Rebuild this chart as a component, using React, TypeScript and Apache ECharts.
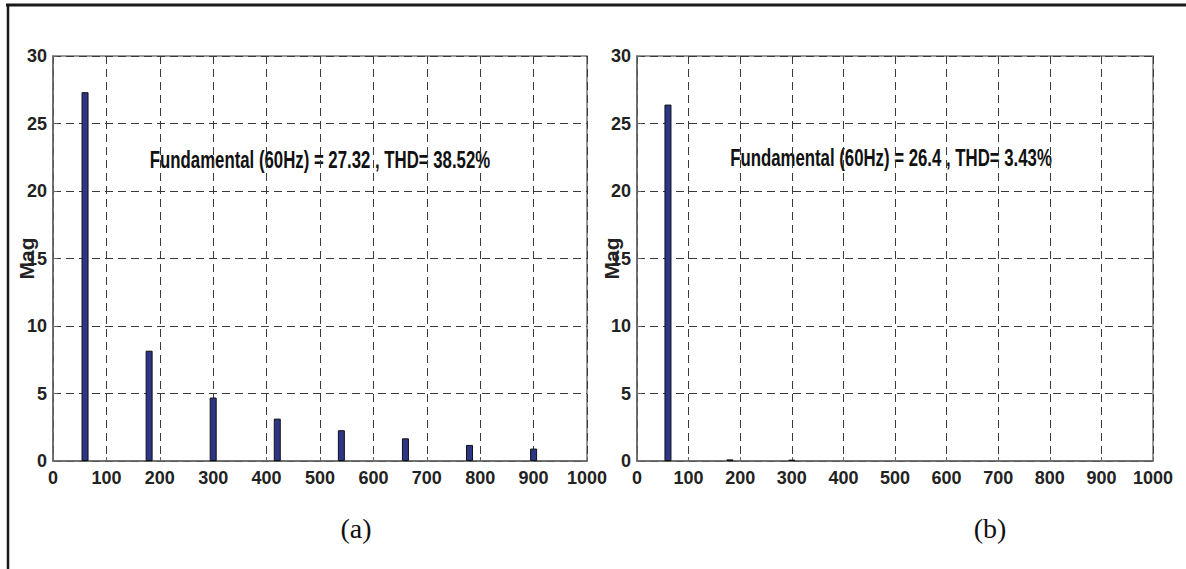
import React, { useEffect, useRef } from "react";
import * as echarts from "echarts";

const xTicks = [0, 100, 200, 300, 400, 500, 600, 700, 800, 900, 1000];
const harmonicFreqA = [60, 180, 300, 420, 540, 660, 780, 900];
const harmonicMagA = [27.32, 8.17, 4.7, 3.14, 2.28, 1.68, 1.19, 0.92];
const harmonicFreqB = [60, 180, 300];
const harmonicMagB = [26.4, 0.12, 0.1];
const annotationA = "Fundamental (60Hz) = 27.32 , THD= 38.52%";
const annotationB = "Fundamental (60Hz) = 26.4 , THD= 3.43%";
const panelLabels = ["(a)", "(b)"];
const yName = "Mag";

const FONT = "'Liberation Sans', Arial, sans-serif";

export default function App() {
  const ref = useRef<HTMLDivElement>(null);
  useEffect(() => {
    if (!ref.current) return;
    const chart = echarts.init(ref.current, null, { renderer: "svg" });
    const grids = [
      { left: 53, top: 56, width: 534, height: 405 },
      { left: 637, top: 56, width: 516, height: 405 },
    ];
    const mkX = (i: number) => ({
      type: "value",
      gridIndex: i,
      min: xTicks[0],
      max: xTicks[xTicks.length - 1],
      interval: xTicks[1] - xTicks[0],
      axisLine: { show: true, lineStyle: { color: "#666", width: 1.5 } },
      axisTick: { show: true, inside: true, length: 4, lineStyle: { color: "#666" } },
      axisLabel: {
        margin: 8,
        fontFamily: FONT,
        fontSize: 18,
        fontWeight: "bold",
        color: "#222",
        formatter: (v: number) => String(v),
      },
      splitLine: {
        show: true,
        lineStyle: { color: "#3a3a3a", type: [8, 5], width: 1 },
      },
    });
    const mkY = (i: number) => ({
      type: "value",
      gridIndex: i,
      min: 0,
      max: 30,
      interval: 5,
      name: yName,
      nameLocation: "middle",
      nameGap: i === 0 ? 16 : 15,
      nameMoveOverlap: false,
      nameTextStyle: {
        fontFamily: FONT,
        fontSize: 21,
        fontWeight: "bold",
        color: "#222",
      },
      axisLine: { show: true, lineStyle: { color: "#666", width: 1.5 } },
      axisTick: { show: true, inside: true, length: 4, lineStyle: { color: "#666" } },
      axisLabel: {
        margin: 6,
        fontFamily: FONT,
        fontSize: 18,
        fontWeight: "bold",
        color: "#222",
      },
      splitLine: {
        show: true,
        lineStyle: { color: "#3a3a3a", type: [8, 5], width: 1 },
      },
    });
    const barStyle = { color: "#2b3686", borderColor: "#111", borderWidth: 1 };
    const annoStyle = (text: string) => ({
      text,
      font: `bold 23px ${FONT}`,
      fill: "#111",
      align: "center",
      verticalAlign: "middle",
    });
    chart.setOption({
      animation: false,
      backgroundColor: "#fff",
      grid: grids.map((g) => ({
        ...g,
        show: true,
        borderColor: "#777",
        borderWidth: 1.5,
        backgroundColor: "transparent",
        containLabel: false,
      })),
      xAxis: [mkX(0), mkX(1)],
      yAxis: [mkY(0), mkY(1)],
      series: [
        {
          type: "bar",
          xAxisIndex: 0,
          yAxisIndex: 0,
          barWidth: 7,
          itemStyle: barStyle,
          data: harmonicFreqA.map((f, i) => [f, harmonicMagA[i]]),
        },
        {
          type: "bar",
          xAxisIndex: 1,
          yAxisIndex: 1,
          barWidth: 7,
          itemStyle: barStyle,
          data: harmonicFreqB.map((f, i) => [f, harmonicMagB[i]]),
        },
      ],
      graphic: [
        {
          type: "line",
          shape: { x1: 6, y1: 5, x2: 1186, y2: 5 },
          style: { stroke: "#1a1a1a", lineWidth: 3 },
        },
        {
          type: "line",
          shape: { x1: 8, y1: 5, x2: 8, y2: 569 },
          style: { stroke: "#1a1a1a", lineWidth: 2.5 },
        },
        {
          type: "text",
          x: 320,
          y: 160,
          scaleX: 0.73,
          style: annoStyle(annotationA),
        },
        {
          type: "text",
          x: 891,
          y: 158,
          scaleX: 0.73,
          style: annoStyle(annotationB),
        },
        {
          type: "text",
          x: 356,
          y: 528,
          style: {
            text: panelLabels[0],
            font: "28px 'Liberation Serif', 'Times New Roman', serif",
            fill: "#111",
            align: "center",
            verticalAlign: "middle",
          },
        },
        {
          type: "text",
          x: 990,
          y: 528,
          style: {
            text: panelLabels[1],
            font: "28px 'Liberation Serif', 'Times New Roman', serif",
            fill: "#111",
            align: "center",
            verticalAlign: "middle",
          },
        },
      ],
    });
    return () => chart.dispose();
  }, []);
  return (
    <div
      ref={ref}
      style={{ position: "fixed", left: 0, top: 0, width: 1186, height: 569 }}
    />
  );
}
